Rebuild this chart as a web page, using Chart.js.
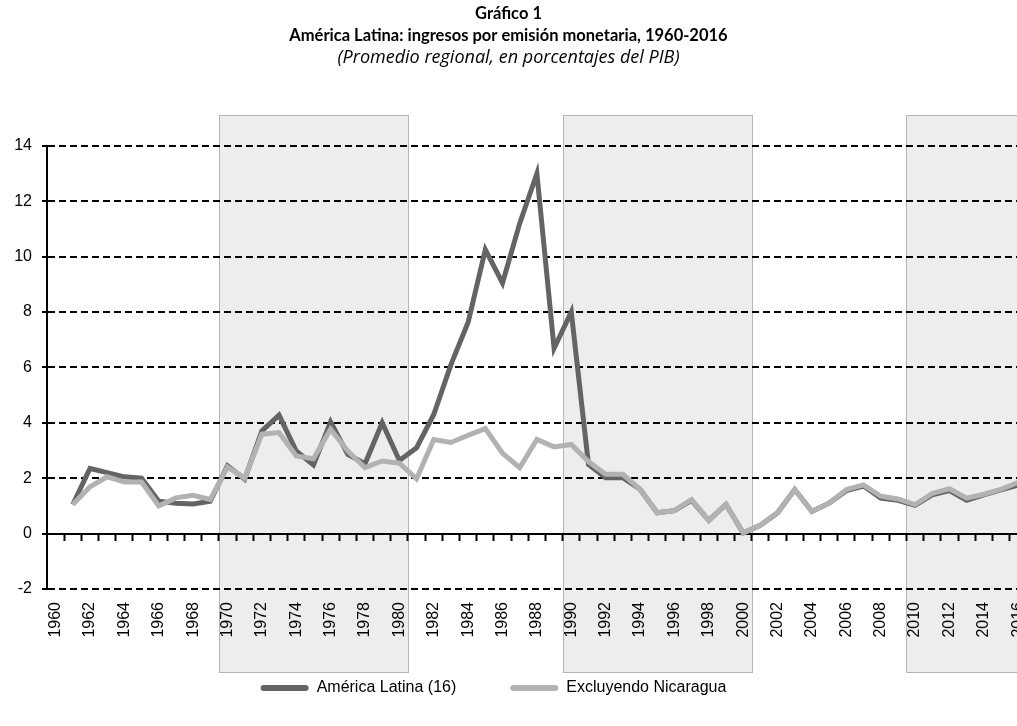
<!DOCTYPE html>
<html lang="es">
<head>
<meta charset="utf-8">
<title>Gráfico 1</title>
<script src="https://cdn.jsdelivr.net/npm/chart.js@4.4.1/dist/chart.umd.min.js"></script>
<style>
  html, body { margin: 0; padding: 0; background: #fff; overflow: hidden; }
  #wrap { width: 1017px; height: 726px; }
</style>
</head>
<body>
<div id="wrap"><canvas id="chart" width="1017" height="726"></canvas></div>
<script>
// años (categorías)
const years = [1960, 1961, 1962, 1963, 1964, 1965, 1966, 1967, 1968, 1969,
  1970, 1971, 1972, 1973, 1974, 1975, 1976, 1977, 1978, 1979,
  1980, 1981, 1982, 1983, 1984, 1985, 1986, 1987, 1988, 1989,
  1990, 1991, 1992, 1993, 1994, 1995, 1996, 1997, 1998, 1999,
  2000, 2001, 2002, 2003, 2004, 2005, 2006, 2007, 2008, 2009,
  2010, 2011, 2012, 2013, 2014, 2015, 2016];

// América Latina (16), % del PIB
const americaLatina = [null, 1.05, 2.35, 2.2, 2.05, 2.0, 1.17, 1.1, 1.07, 1.17,
  2.45, 1.97, 3.71, 4.28, 2.98, 2.48, 4.03, 2.86, 2.52, 4.0,
  2.64, 3.1, 4.3, 6.1, 7.63, 10.25, 9.05, 11.2, 13.0, 6.69,
  8.0, 2.5, 2.02, 2.02, 1.6, 0.75, 0.83, 1.2, 0.48, 1.05,
  0.02, 0.3, 0.75, 1.59, 0.8, 1.1, 1.55, 1.72, 1.28, 1.2,
  1.02, 1.4, 1.55, 1.2, 1.4, 1.58, 1.75];

// Excluyendo Nicaragua, % del PIB
const sinNicaragua = [null, 1.05, 1.69, 2.05, 1.86, 1.86, 1.0, 1.29, 1.38, 1.23,
  2.4, 2.0, 3.59, 3.65, 2.8, 2.7, 3.77, 2.98, 2.38, 2.62,
  2.54, 1.98, 3.4, 3.29, 3.55, 3.79, 2.9, 2.38, 3.4, 3.13,
  3.22, 2.6, 2.14, 2.14, 1.6, 0.75, 0.83, 1.23, 0.48, 1.05,
  0.02, 0.3, 0.75, 1.59, 0.8, 1.1, 1.59, 1.76, 1.35, 1.25,
  1.05, 1.45, 1.62, 1.28, 1.42, 1.6, 1.85];

// etiquetas del eje x (cada dos años) y del eje y
const xLabelYears = [1960, 1962, 1964, 1966, 1968, 1970, 1972, 1974, 1976, 1978,
  1980, 1982, 1984, 1986, 1988, 1990, 1992, 1994, 1996, 1998,
  2000, 2002, 2004, 2006, 2008, 2010, 2012, 2014, 2016];
const yTicks = [-2, 0, 2, 4, 6, 8, 10, 12, 14];

// periodos sombreados (decenios) y su alto en unidades del eje y
const bandRanges = [[1970, 1980], [1990, 2000], [2010, 2016]];
const bandSpan = [-5, 15.1];

const tickFont = { family: '"Liberation Sans", Arial, sans-serif', size: 16 };

const toPoints = (vals) => years.map((yr, i) => ({ x: yr, y: vals[i] }));

const bandsPlugin = {
  id: 'bands',
  afterLayout(chart) {
    // la leyenda del original no está centrada y queda algo más arriba
    const lg = chart.legend;
    lg.left -= 15;
    lg.right -= 15;
    lg.top -= 13;
    lg.bottom -= 13;
  },
  beforeDraw(chart) {
    const { ctx, scales: { x, y } } = chart;
    const top = Math.round(y.getPixelForValue(bandSpan[1])) + 0.5;
    const bottom = Math.round(y.getPixelForValue(bandSpan[0])) + 0.5;
    ctx.save();
    bandRanges.forEach(([a, b]) => {
      const left = Math.round(x.getPixelForValue(a - 0.5)) + 0.5;
      const right = Math.round(x.getPixelForValue(b + 0.5)) + 0.5;
      ctx.fillStyle = '#ededed';
      ctx.fillRect(left, top, right - left, bottom - top);
      ctx.strokeStyle = '#b5b5b5';
      ctx.lineWidth = 1;
      ctx.strokeRect(left, top, right - left, bottom - top);
    });
    ctx.restore();
  }
};

const xMin = 1959.5;
const xMax = 2015.93;

new Chart(document.getElementById('chart'), {
  type: 'line',
  data: {
    datasets: [
      {
        label: 'América Latina (16)',
        data: toPoints(americaLatina),
        borderColor: '#646464',
        backgroundColor: '#646464',
        borderWidth: 5,
        pointRadius: 0,
        order: 1,
      },
      {
        label: 'Excluyendo Nicaragua',
        data: toPoints(sinNicaragua),
        borderColor: '#b2b2b2',
        backgroundColor: '#b2b2b2',
        borderWidth: 5,
        pointRadius: 0,
        order: 0,
      },
    ],
  },
  options: {
    responsive: false,
    animation: false,
    devicePixelRatio: 1,
    layout: { padding: { left: 0, right: 0, top: 0, bottom: 7 } },
    scales: {
      x: {
        type: 'linear',
        position: 'bottom',
        min: xMin,
        max: xMax,
        bounds: 'data',
        afterBuildTicks: (s) => { s.ticks = xLabelYears.map((v) => ({ value: v })); },
        afterFit: (s) => { s.height = 50; s.paddingLeft = 0; s.paddingRight = 0; },
        ticks: {
          autoSkip: false,
          minRotation: 90,
          maxRotation: 90,
          padding: 13,
          color: '#000',
          font: tickFont,
          callback: (v) => String(v),
        },
        grid: { display: false, drawTicks: false },
        border: { display: false },
      },
      xt: {
        type: 'linear',
        position: { y: 0 },
        min: xMin,
        max: xMax,
        bounds: 'data',
        afterBuildTicks: (s) => { s.ticks = years.map((v) => ({ value: v + 0.5 })); },
        afterFit: (s) => { s.height = 0; s.paddingLeft = 0; s.paddingRight = 0; },
        ticks: { display: false },
        grid: { drawOnChartArea: false, drawTicks: true, tickLength: 6, tickColor: '#000', tickWidth: 2 },
        border: { display: true, color: '#000', width: 2 },
      },
      y: {
        min: -2,
        max: 14,
        afterBuildTicks: (s) => { s.ticks = yTicks.map((v) => ({ value: v })); },
        afterFit: (s) => { s.width = 47; },
        ticks: { padding: 10, color: '#000', font: tickFont },
        grid: {
          color: '#000',
          lineWidth: 2,
          tickLength: 5,
          tickColor: '#000',
          tickWidth: 2,
        },
        border: {
          display: true,
          color: '#000',
          width: 2,
          dash: (c) => (c.tick && c.tick.value === 0 ? [] : [7, 4]),
        },
      },
    },
    plugins: {
      title: {
        display: true,
        text: ['Gráfico 1', 'América Latina: ingresos por emisión monetaria, 1960-2016'],
        color: '#000',
        font: { family: 'Lato, "Open Sans", sans-serif', size: 16.5, weight: 'bold', lineHeight: 1.36 },
        padding: { top: 2, bottom: 0 },
      },
      subtitle: {
        display: true,
        text: '(Promedio regional, en porcentajes del PIB)',
        color: '#000',
        font: { family: '"Open Sans", Lato, sans-serif', size: 18, style: 'italic', lineHeight: 1.22 },
        padding: { top: 0, bottom: 77 },
      },
      legend: {
        position: 'bottom',
        labels: {
          boxWidth: 48,
          boxHeight: 6,
          padding: 54,
          color: '#000',
          font: tickFont,
          useBorderRadius: true,
          borderRadius: 3,
          sort: (a, b) => a.datasetIndex - b.datasetIndex,
          generateLabels: (chart) =>
            Chart.defaults.plugins.legend.labels.generateLabels(chart).map((l) => ({ ...l, lineWidth: 0 })),
        },
      },
      tooltip: { enabled: false },
    },
  },
  plugins: [bandsPlugin],
});
</script>
</body>
</html>
